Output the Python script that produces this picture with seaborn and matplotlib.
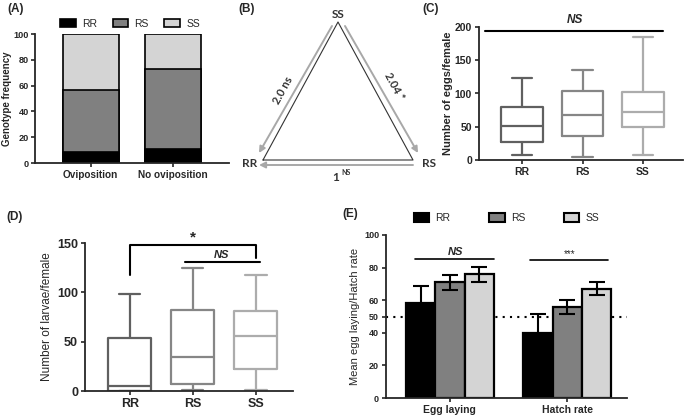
import matplotlib
matplotlib.use("Agg")
import numpy as np
import pandas as pd
import matplotlib.pyplot as plt
from matplotlib.patches import Patch
import seaborn as sns

# (A) genotype frequency (%) per group
conditions = ["Oviposition", "No oviposition"]
rr_freq = [8.8, 10.6]
rs_freq = [47.8, 62.3]
ss_freq = [43.4, 27.1]

genotypes = ["RR", "RS", "SS"]

# (C) eggs/female: min, Q1, median, Q3, max
eggs_rr = [7, 27, 51, 80, 124]
eggs_rs = [4.5, 35.5, 68, 104, 136]
eggs_ss = [8, 49, 72, 102, 185]

# (D) larvae/female: min, Q1, median, Q3, max
larvae_rr = [0, 0.5, 5, 53.5, 98]
larvae_rs = [1, 7, 34.5, 82, 125]
larvae_ss = [1, 22.5, 56, 81, 118]

# (E) mean +/- error
traits = ["Egg laying", "Hatch rate"]
mean_rr = [58, 40]
mean_rs = [71, 56]
mean_ss = [75.8, 67]
err_rr = [10.6, 11.6]
err_rs = [4.6, 4.2]
err_ss = [4.4, 3.9]

bar_colors = {"RR": "black", "RS": "#808080", "SS": "#d4d4d4"}
box_colors = {"RR": "#606060", "RS": "#868686", "SS": "#acacac"}

sns.set_style("ticks")
plt.rcParams["font.family"] = ["Liberation Sans", "DejaVu Sans"]

W, H = 685, 415
fig = plt.figure(figsize=(W / 100, H / 100), dpi=100)


def px_box(l, t, r, b):
    return [l / W, 1 - b / H, (r - l) / W, (b - t) / H]


def style(ax, fs):
    sns.despine(ax=ax)
    for s in ["left", "bottom"]:
        ax.spines[s].set_linewidth(1.3)
    ax.tick_params(width=1.2, length=3, labelsize=fs, pad=2)
    for lab in ax.get_xticklabels() + ax.get_yticklabels():
        lab.set_fontweight("bold")
    ax.set_xlabel("")


# overlay for panel letters and the diagram in (B)
ov = fig.add_axes([0, 0, 1, 1])
ov.set_xlim(0, W)
ov.set_ylim(H, 0)
ov.axis("off")
for lbl, x, y in [("(A)", 7, 9), ("(B)", 238, 9), ("(C)", 422, 9), ("(D)", 6, 217), ("(E)", 342, 214)]:
    ov.text(x, y, lbl, fontsize=8.5, fontweight="bold", va="center", ha="left")

# (B) triangle
ov.plot([263, 338, 413, 263], [160, 22, 160, 160], color="#333333", lw=0.8)
arrow = dict(arrowstyle="-|>", color="#a8a8a8", lw=1.4, mutation_scale=9, shrinkA=0, shrinkB=0)
ov.annotate("", xy=(259, 153), xytext=(332, 26), arrowprops=arrow)
ov.annotate("", xy=(418, 153), xytext=(345, 26), arrowprops=arrow)
ov.annotate("", xy=(259, 165), xytext=(413, 165), arrowprops=arrow)
bfont = dict(family=["Lato", "DejaVu Sans"], fontweight="bold", color="#333333")
ov.text(338, 15, "SS", ha="center", va="center", fontsize=8.5, **bfont)
ov.text(250, 163, "RR", ha="center", va="center", fontsize=8.5, **bfont)
ov.text(429, 163, "RS", ha="center", va="center", fontsize=8.5, **bfont)
ov.text(283, 90, "2.0 ns", ha="center", va="center", rotation=61.5, fontsize=8, **bfont)
ov.text(394, 86, "2.04 *", ha="center", va="center", rotation=-61.5, fontsize=8, **bfont)
ov.text(336, 177, "1", ha="center", va="center", fontsize=8.5, **bfont)
ov.text(341, 172, "NS", ha="left", va="center", fontsize=5, **bfont)

# (A) stacked bars
axA = fig.add_axes(px_box(35, 34, 229, 163))
cum_rs = [a + b for a, b in zip(rr_freq, rs_freq)]
cum_ss = [a + b for a, b in zip(cum_rs, ss_freq)]
for vals, g in [(cum_ss, "SS"), (cum_rs, "RS"), (rr_freq, "RR")]:
    sns.barplot(x=conditions, y=vals, color=bar_colors[g], width=0.675,
                edgecolor="black", linewidth=1.2, ax=axA)
axA.set_xlim(-0.675, 1.675)
axA.set_ylim(0, 100)
axA.set_yticks([0, 20, 40, 60, 80, 100])
style(axA, 7.2)
axA.tick_params(axis="y", labelsize=6.6, pad=1.5)
axA.set_ylabel("Genotype frequency", fontsize=7, fontweight="bold", labelpad=1)
axA.legend(handles=[Patch(facecolor=bar_colors[g], edgecolor="black", linewidth=1.2, label=g) for g in genotypes],
           loc="center", bbox_to_anchor=(0.49, 1.08), ncol=3, frameon=False, fontsize=7.5,
           handlelength=1.5, handleheight=0.9, columnspacing=1.5, handletextpad=0.6)

# (C) eggs boxplot
eggs = pd.DataFrame({"genotype": np.repeat(genotypes, 5),
                     "value": eggs_rr + eggs_rs + eggs_ss})
axC = fig.add_axes(px_box(479, 27, 683, 160))
sns.boxplot(data=eggs, x="genotype", y="value", hue="genotype", palette=box_colors,
            fill=False, width=0.68, whis=(0, 100), linewidth=1.6, legend=False, ax=axC)
axC.set_xlim(-0.71, 2.66)
axC.set_ylim(0, 200)
axC.set_yticks([0, 50, 100, 150, 200])
style(axC, 7.5)
axC.set_ylabel("Number of eggs/female", fontsize=8, fontweight="bold", labelpad=1)
axC.plot([-0.61, 2.33], [193.5, 193.5], color="black", lw=1.5, clip_on=False)
axC.text(0.88, 201, "NS", ha="center", va="bottom", fontsize=8.5,
         fontstyle="italic", fontweight="bold")

# (D) larvae boxplot
larvae = pd.DataFrame({"genotype": np.repeat(genotypes, 5),
                       "value": larvae_rr + larvae_rs + larvae_ss})
axD = fig.add_axes(px_box(85, 243, 293, 391))
sns.boxplot(data=larvae, x="genotype", y="value", hue="genotype", palette=box_colors,
            fill=False, width=0.68, whis=(0, 100), linewidth=1.6, legend=False, ax=axD)
axD.set_xlim(-0.71, 2.59)
axD.set_ylim(0, 150)
axD.set_yticks([0, 50, 100, 150])
style(axD, 9)
axD.set_ylabel("Number of larvae/female", fontsize=8.5, labelpad=3)
axD.plot([0, 0, 2, 2], [118, 147.5, 147.5, 135], color="black", lw=1.5, clip_on=False)
axD.text(1, 149, "*", ha="center", va="bottom", fontsize=11, fontweight="bold")
axD.plot([0.87, 2.06], [131, 131], color="black", lw=1.5, clip_on=False)
axD.text(1.46, 133, "NS", ha="center", va="bottom", fontsize=8,
         fontstyle="italic", fontweight="bold")

# (E) grouped bars
egg_hatch = pd.DataFrame({
    "trait": traits * 3,
    "genotype": np.repeat(genotypes, 2),
    "value": mean_rr + mean_rs + mean_ss,
})
errs = {"RR": err_rr, "RS": err_rs, "SS": err_ss}
axE = fig.add_axes(px_box(386, 235, 627, 398))
axE.axhline(50, color="black", ls=(0, (1, 2.5)), lw=1.5, zorder=0)
sns.barplot(data=egg_hatch, x="trait", y="value", hue="genotype", palette=bar_colors,
            errorbar=None, width=0.75, edgecolor="black", linewidth=1.6, zorder=2, ax=axE)
for cont, g in zip(axE.containers, genotypes):
    for bar, e in zip(cont, errs[g]):
        axE.errorbar(bar.get_x() + bar.get_width() / 2, bar.get_height(), yerr=e,
                     color="black", lw=1.5, capsize=6, capthick=1.5, zorder=3)
axE.set_xlim(-0.545, 1.51)
axE.set_ylim(0, 100)
axE.set_yticks([0, 20, 40, 50, 60, 80, 100])
style(axE, 6.5)
axE.tick_params(axis="x", labelsize=7.5)
axE.set_ylabel("Mean egg laying/Hatch rate", fontsize=8, labelpad=3)
axE.legend(handles=[Patch(facecolor=bar_colors[g], edgecolor="black", linewidth=1.5, label=g) for g in genotypes],
           loc="center", bbox_to_anchor=(0.5, 1.105), ncol=3, frameon=False, fontsize=7.5,
           handlelength=1.5, handleheight=0.9, columnspacing=3.7, handletextpad=0.6)
axE.plot([-0.3, 0.38], [85, 85], color="black", lw=1.2)
axE.text(0.05, 86.5, "NS", ha="center", va="bottom", fontsize=8,
         fontstyle="italic", fontweight="bold")
axE.plot([0.68, 1.35], [84.6, 84.6], color="black", lw=1.2)
axE.text(1.02, 85.5, "***", ha="center", va="bottom", fontsize=7)

fig.savefig("out.png", dpi=100)
